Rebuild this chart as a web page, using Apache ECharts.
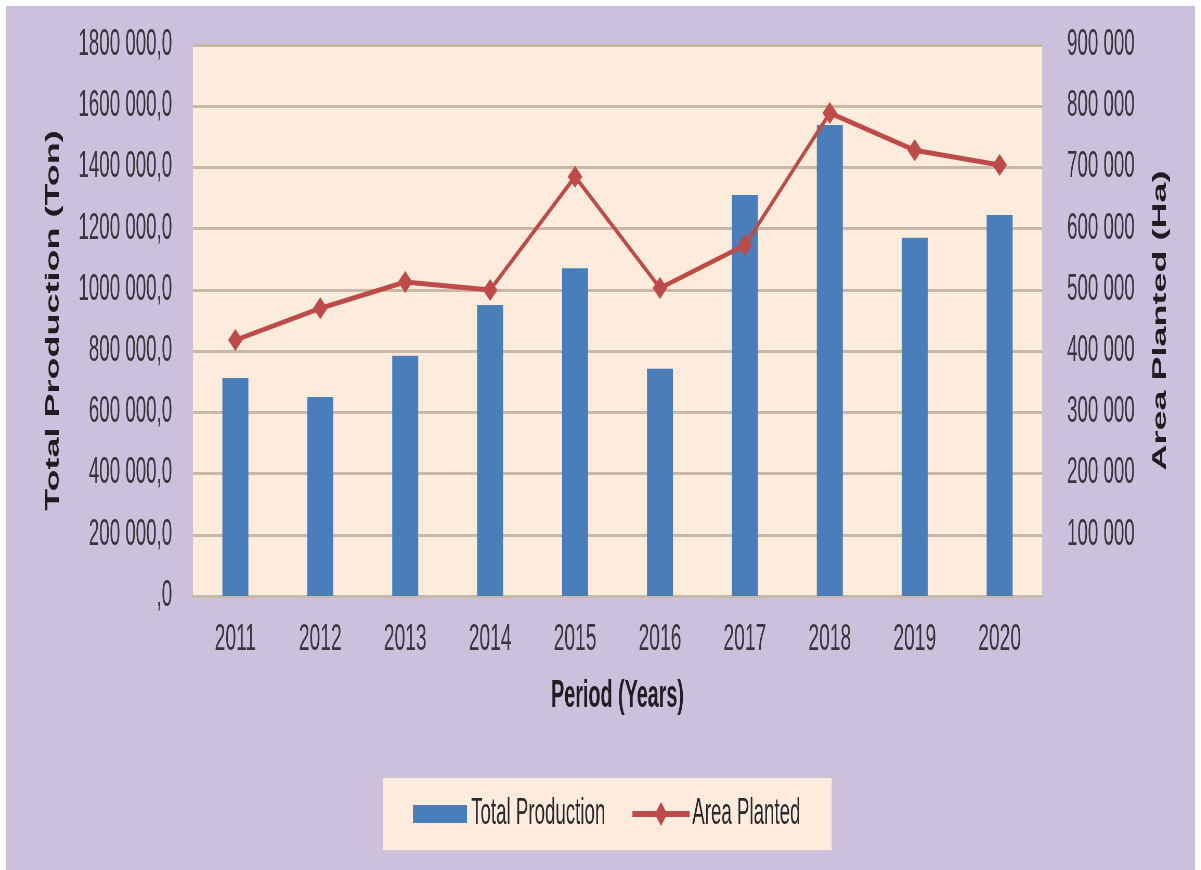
<!DOCTYPE html>
<html>
<head>
<meta charset="utf-8">
<script src="https://cdn.jsdelivr.net/npm/echarts@6/dist/echarts.min.js"></script>
<style>
  html, body { margin: 0; padding: 0; background: #ffffff; width: 1201px; height: 870px; overflow: hidden; }
  #panel { position: absolute; left: 6px; top: 6px; width: 1189px; height: 864px; background: #cbc1dc; }
  /* chart is laid out wide and squeezed horizontally to get the narrow lettering */
  #chart { position: absolute; left: 0; top: 0; width: 2310px; height: 870px; transform: scaleX(0.52); transform-origin: 0 0; }
</style>
</head>
<body>
<div id="panel"></div>
<div id="chart"></div>
<script>
const years = ['2011', '2012', '2013', '2014', '2015', '2016', '2017', '2018', '2019', '2020'];
const totalProduction = [712000, 650000, 785000, 951000, 1071000, 742000, 1310000, 1539000, 1170000, 1245000];
const areaPlanted = [418000, 470000, 513000, 500000, 685000, 503000, 573000, 789000, 728000, 704000];
const productionTicks = { min: 0, max: 1800000, step: 200000 };
const areaTicks = { min: 0, max: 900000, step: 100000 };

const FONT = "'Liberation Sans', Arial, sans-serif";
const LABEL = '#37353d';
const TITLE = '#1f1d22';
const GRID = '#c9b8a6';

function tonLabel(v) {
  if (v === 0) return ',0';
  const hi = Math.floor(v / 1000);
  const lo = String(v % 1000).padStart(3, '0');
  return hi + ' ' + lo + ',0';
}
function haLabel(v) {
  if (v === 0) return '';
  const hi = Math.floor(v / 1000);
  const lo = String(v % 1000).padStart(3, '0');
  return hi + ' ' + lo;
}

const chart = echarts.init(document.getElementById('chart'), null, { renderer: 'canvas' });

chart.setOption({
  backgroundColor: 'transparent',
  animation: false,
  grid: {
    left: 371, right: 306, top: 45, bottom: 274,
    show: true, backgroundColor: '#fdebdc', borderWidth: 0
  },
  legend: {
    left: 737, top: 778,
    padding: [18, 60, 18, 57],
    backgroundColor: '#fdecde',
    itemWidth: 110, itemHeight: 24, itemGap: 52,
    textStyle: { fontFamily: FONT, fontSize: 36, color: '#2a282c' },
    data: [
      { name: 'Total Production', icon: 'path://M0,0 M0,24 M0,3 L104,3 L104,21 L0,21 Z', itemStyle: { borderWidth: 0 } },
      { name: 'Area Planted', icon: 'path://M0,9 L110,9 L110,15 L0,15 Z M55,0 L67,12 L55,24 L43,12 Z', itemStyle: { borderWidth: 0 } }
    ]
  },
  xAxis: {
    type: 'category',
    data: years,
    axisLine: { show: true, lineStyle: { color: GRID, width: 3 } },
    axisTick: { show: false },
    axisLabel: { fontFamily: FONT, fontSize: 37, color: LABEL, margin: 25 },
    name: 'Period (Years)',
    nameLocation: 'middle',
    nameGap: 82,
    nameTextStyle: { fontFamily: FONT, fontSize: 38, fontWeight: 'bold', color: TITLE }
  },
  yAxis: [
    {
      type: 'value',
      min: productionTicks.min, max: productionTicks.max, interval: productionTicks.step,
      axisLine: { show: false }, axisTick: { show: false },
      splitLine: { show: true, lineStyle: { color: GRID, width: 3 } },
      axisLabel: { fontFamily: FONT, fontSize: 36, color: LABEL, margin: 40, formatter: tonLabel },
      name: 'Total Production (Ton)',
      nameLocation: 'middle', nameRotate: 90, nameGap: 250,
      nameTextStyle: { fontFamily: FONT, fontSize: 36, fontWeight: 'bold', color: TITLE }
    },
    {
      type: 'value',
      position: 'right',
      min: areaTicks.min, max: areaTicks.max, interval: areaTicks.step,
      axisLine: { show: false }, axisTick: { show: false },
      splitLine: { show: false },
      axisLabel: { fontFamily: FONT, fontSize: 36, color: LABEL, margin: 48, formatter: haLabel },
      name: 'Area Planted (Ha)',
      nameLocation: 'middle', nameRotate: 90, nameGap: 210,
      nameTextStyle: { fontFamily: FONT, fontSize: 36, fontWeight: 'bold', color: TITLE }
    }
  ],
  series: [
    {
      name: 'Total Production',
      type: 'bar',
      yAxisIndex: 0,
      data: totalProduction,
      barWidth: 50,
      itemStyle: { color: '#4a7ebb' }
    },
    {
      name: 'Area Planted',
      type: 'line',
      yAxisIndex: 1,
      data: areaPlanted,
      symbol: 'diamond',
      symbolSize: [28, 22],
      lineStyle: { color: '#be4b48', width: 5 },
      itemStyle: { color: '#be4b48' }
    }
  ]
});
</script>
</body>
</html>
